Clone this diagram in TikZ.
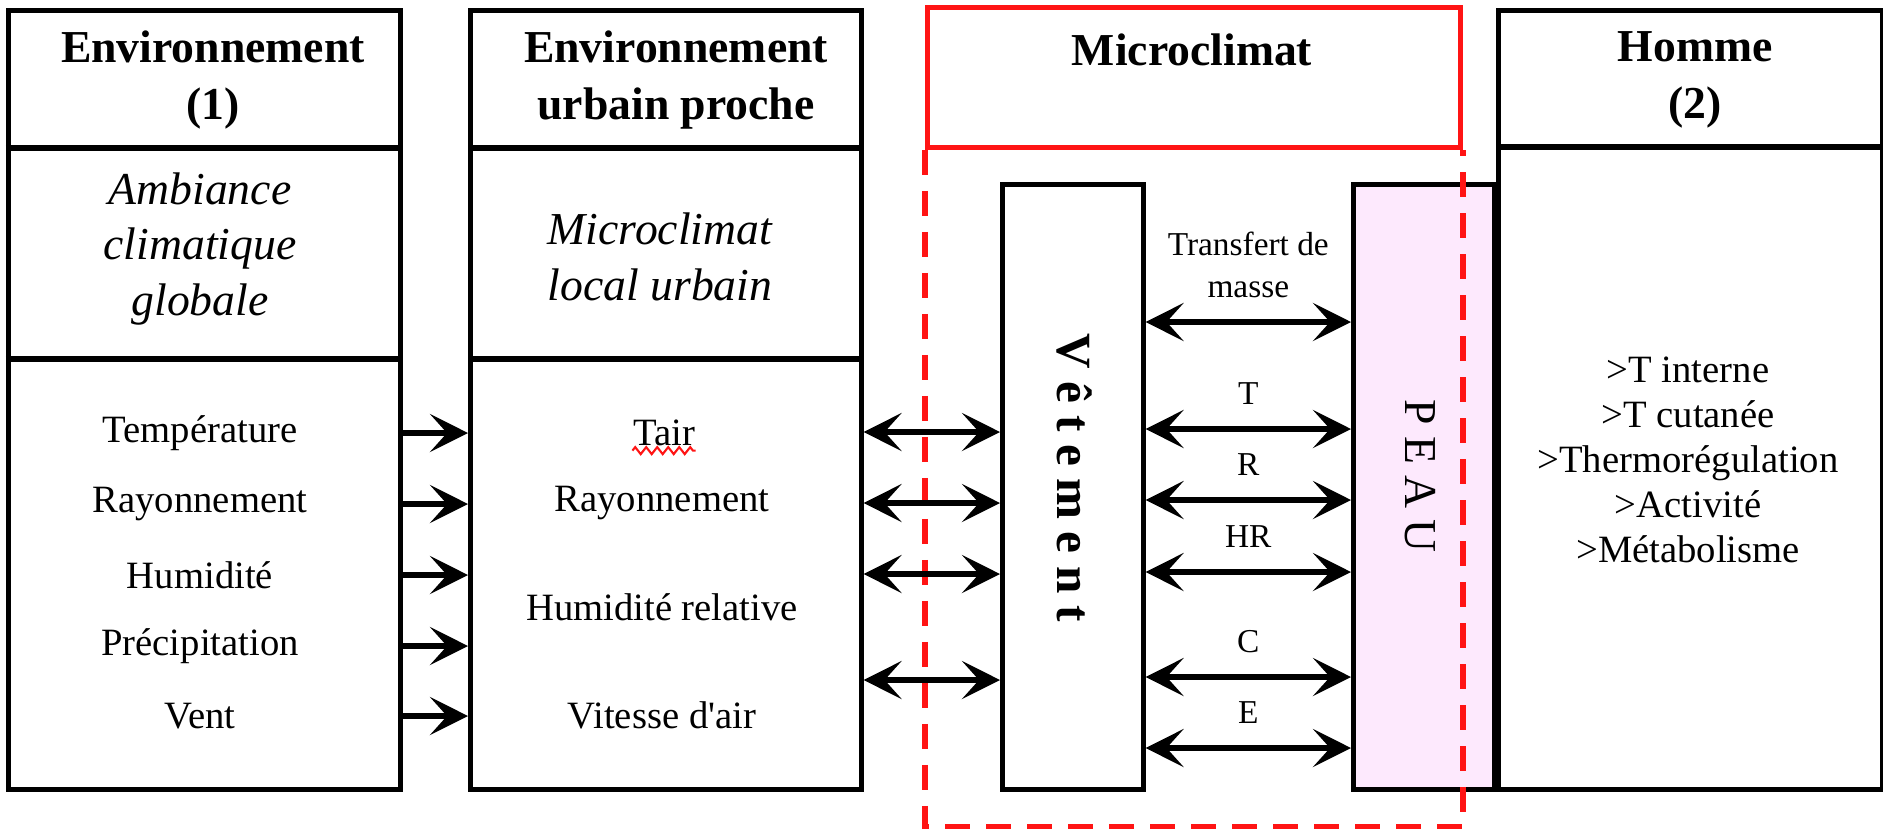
\documentclass[tikz,border=0pt]{standalone}
\usepackage{fontspec}
\setmainfont{Liberation Serif}
\usetikzlibrary{arrows.meta}
\usetikzlibrary{decorations.pathmorphing}
\definecolor{rosepeau}{RGB}{253,233,253}
\definecolor{rougevif}{RGB}{255,20,20}
\tikzset{
  >={Stealth[length=3.8mm,width=3.8mm,inset=1.7mm]},
  colonne/.style={draw,line width=1.3pt,anchor=north west,inner sep=0pt},
  separ/.style={line width=1.8pt},
  titre/.style={font=\fontsize{13}{16.2}\selectfont\bfseries,align=center},
  ital/.style={font=\fontsize{13}{15.9}\selectfont\itshape,align=center},
  texte/.style={font=\fontsize{11}{12.8}\selectfont,align=center},
  petit/.style={font=\fontsize{9.5}{12}\selectfont,align=center},
  fleche/.style={line width=1.5pt},
  pointille/.style={draw=rougevif,line width=1.6pt,dash pattern=on 2.5mm off 1.6mm},
}

\begin{document}
\begin{tikzpicture}
\useasboundingbox (0,0) rectangle (18.83,-8.28);
\node[colonne,minimum width=3.92cm,minimum height=7.79cm] (env) at (0.06,-0.08) {};
\node[colonne,minimum width=3.91cm,minimum height=7.79cm] (urb) at (4.68,-0.08) {};
\node[colonne,minimum width=1.41cm,minimum height=6.05cm] (vet) at (10.00,-1.82) {};
\node[colonne,fill=rosepeau,minimum width=1.41cm,minimum height=6.05cm] (peau) at (13.51,-1.82) {};
\node[colonne,minimum width=3.84cm,minimum height=7.79cm] (hom) at (14.96,-0.08) {};
\node[colonne,draw=rougevif,line width=1.4pt,minimum width=5.33cm,minimum height=1.40cm] (micro) at (9.25,-0.05) {};
\draw[pointille] (micro.south west) -- ++(0,-6.77) -| (micro.south east);

\draw[separ] (0.06,-1.48) -- (3.98,-1.48);
\draw[separ] (0.06,-3.59) -- (3.98,-3.59);
\draw[separ] (4.68,-1.48) -- (8.59,-1.48);
\draw[separ] (4.68,-3.59) -- (8.59,-3.59);
\draw[separ] (14.96,-1.47) -- (18.80,-1.47);

\node[titre] (t1) at (2.13,-0.80) {Environnement\\(1)};
\node[titre] (t2) at (6.76,-0.80) {Environnement\\urbain proche};
\node[titre] (t3) at (11.92,-0.50) {Microclimat};
\node[titre] (t4) at (16.95,-0.80) {Homme\\(2)};

\node[ital] (a1) at (2.00,-2.49) {Ambiance\\climatique\\globale};
\node[ital] (a2) at (6.60,-2.57) {Microclimat\\local urbain};

\foreach \nom/\y/\txt in {temp/4.33/Température,ray/5.04/Rayonnement,hum/5.75/Humidité,prec/6.46/Précipitation,vent/7.16/Vent}
  \node[texte] (\nom) at (2.00,-\y) {\txt};
\foreach \nom in {temp,ray,hum,prec,vent}
  \draw[fleche,->] (\nom -| env.east) -- (\nom -| urb.west);

\node[texte,inner xsep=0pt] (tair) at (6.64,-4.33) {Tair};
\node[texte] (ray2) at (6.62,-5.03) {Rayonnement};
\node[texte] (humr) at (6.62,-6.07) {Humidité relative};
\node[texte] (vit) at (6.62,-7.15) {Vitesse d\textquotesingle air};
\draw[rougevif,line width=0.6pt,decorate,decoration={zigzag,segment length=1.1mm,amplitude=0.35mm}] ([yshift=-0.5mm]tair.base west) -- ([yshift=-0.5mm]tair.base east);

\foreach \i/\y in {1/4.32,2/5.03,3/5.74,4/6.80}
  \coordinate (g\i) at (0,-\y);
\foreach \i in {1,2,3,4}
  \draw[fleche,<->] (g\i -| urb.east) -- (g\i -| vet.west);

\foreach \i/\y/\lab in {1/3.22/{Transfert de\\masse},2/4.29/T,3/5.00/R,4/5.72/HR,5/6.77/C,6/7.48/E}{
  \coordinate (r\i) at (0,-\y);
  \draw[fleche,<->] (r\i -| vet.east) -- node[petit,above=1mm] (l\i) {\lab} (r\i -| peau.west);
}

\node[font=\fontsize{14}{16}\selectfont\bfseries,rotate=-90] (vtxt) at (10.74,-4.78) {V ê t e m e n t};
\node[font=\fontsize{13}{16}\selectfont,rotate=-90] (ptxt) at (14.20,-4.76) {P E A U};

\node[texte] (liste) at (16.88,-4.60) {>T interne\\>T cutanée\\>Thermorégulation\\>Activité\\>Métabolisme};
\end{tikzpicture}
\end{document}
